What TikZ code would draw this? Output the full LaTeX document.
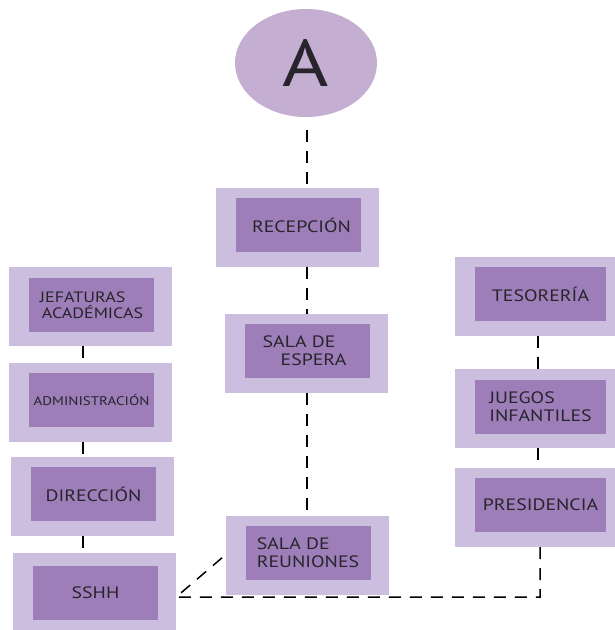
\documentclass[tikz,border=0pt]{standalone}
\usepackage{fontspec}
\setmainfont{PT Sans}[FakeStretch=1.2]
\usetikzlibrary{shapes.geometric}

\definecolor{lilaclaro}{RGB}{203,190,222}
\definecolor{lilaoscuro}{RGB}{157,126,184}
\definecolor{lilaelipse}{RGB}{196,174,210}
\definecolor{texto}{RGB}{40,36,44}

\tikzset{
	marco/.style={fill=lilaclaro, minimum width=163pt, minimum height=79pt, inner sep=0pt},
	sala/.style={fill=lilaoscuro, minimum width=125pt, minimum height=54pt, inner sep=0pt, align=left, text=texto, font=\fontsize{16.5}{18}\selectfont},
	conector/.style={line width=1.5pt, dash pattern=on 12pt off 9pt},
}

\begin{document}
\begin{tikzpicture}[x=1pt, y=-1pt]
	\useasboundingbox (0,0) rectangle (615,630);
	% ejes de los conectores verticales
	\coordinate (ejeizq) at (83,0);
	\coordinate (ejecentro) at (307,0);
	\coordinate (ejeder) at (538,0);
	\coordinate (esquina) at (540,597);
	% entrada
	\node[ellipse, fill=lilaelipse, minimum width=142pt, minimum height=108pt, text=texto, font=\fontsize{66}{66}\selectfont] (A) at (306,63) {A};
	% columna central
	\node[marco] (recepcion) at (297.5,227.5) {};
	\node[sala] (recepcion-in) at (298.5,225) {\hspace*{6pt}RECEPCIÓN};
	\node[marco] (espera) at (306.5,353.5) {};
	\node[sala] (espera-in) at (307.5,351) {SALA DE\\\hspace*{18pt}ESPERA\hspace*{6pt}};
	\node[marco] (reuniones) at (307,555) {};
	\node[sala] (reuniones-in) at (308,552.5) {SALA DE\\REUNIONES};
	% columna izquierda
	\node[marco] (jefaturas) at (90.5,306.5) {};
	\node[sala, font=\fontsize{15}{16.5}\selectfont] (jefaturas-in) at (91.5,305) {JEFATURAS\\\hspace*{2pt}ACADÉMICAS};
	\node[marco] (administracion) at (90.5,402.5) {};
	\node[sala, font=\fontsize{12.5}{14}\selectfont] (administracion-in) at (91.5,400) {ADMINISTRACIÓN};
	\node[marco] (direccion) at (92.5,496.5) {};
	\node[sala] (direccion-in) at (93.5,494) {DIRECCIÓN};
	\node[marco] (sshh) at (94.5,592.5) {};
	\node[sala] (sshh-in) at (95.5,593) {SSHH};
	% columna derecha
	\node[marco, minimum width=161pt] (tesoreria) at (535.5,296.5) {};
	\node[sala, minimum width=131pt] (tesoreria-in) at (540.5,294) {TESORERÍA};
	\node[marco, minimum width=161pt] (juegos) at (535.5,408.5) {};
	\node[sala, minimum width=131pt] (juegos-in) at (540.5,407) {JUEGOS\\INFANTILES};
	\node[marco, minimum width=161pt] (presidencia) at (535.5,507.5) {};
	\node[sala, minimum width=131pt] (presidencia-in) at (540.5,505) {PRESIDENCIA};
	% conectores
	\draw[conector] (ejecentro |- A.south) ++(0,13) -- (ejecentro |- recepcion.north);
	\draw[conector] (ejecentro |- recepcion.south) -- (ejecentro |- espera.north);
	\draw[conector] (ejecentro |- espera.south) -- (ejecentro |- reuniones.north);
	\draw[conector] (ejeizq |- jefaturas.south) -- (ejeizq |- administracion.north);
	\draw[conector] (ejeizq |- administracion.south) -- (ejeizq |- direccion.north);
	\draw[conector] (ejeizq |- direccion.south) -- (ejeizq |- sshh.north);
	\draw[conector] (ejeder |- tesoreria.south) -- (ejeder |- juegos.north);
	\draw[conector] (ejeder |- juegos.south) -- (ejeder |- presidencia.north);
	\draw[conector] (esquina |- presidencia.south) -- (esquina) -- (sshh.east |- esquina) -- (reuniones.west);
\end{tikzpicture}
\end{document}
